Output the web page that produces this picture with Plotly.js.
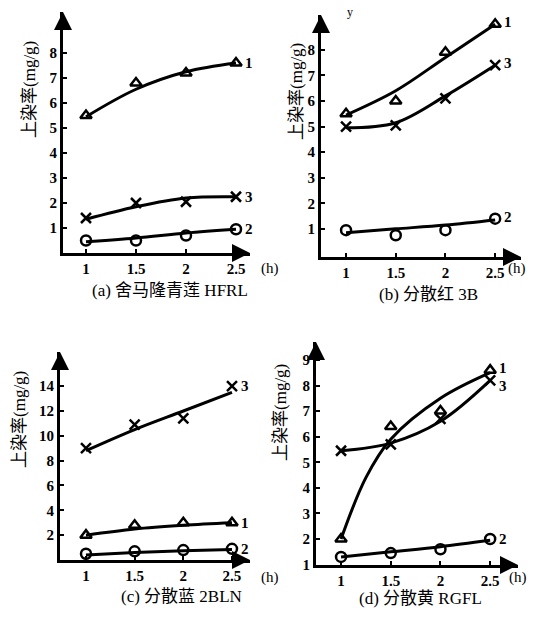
<!DOCTYPE html>
<html><head><meta charset="utf-8">
<script src="https://cdn.plot.ly/plotly-3.0.1.min.js"></script>
<style>html,body{margin:0;padding:0;background:#fff}#c{width:536px;height:618px}</style>
</head><body><div id="c"></div>
<script>
// time (h)
const hours = [1, 1.5, 2, 2.5];
// (a) 舍马隆青莲 HFRL
const aPts1 = [5.5, 6.8, 7.2, 7.6];
const aPts2 = [0.5, 0.5, 0.7, 0.95];
const aPts3 = [1.4, 2.0, 2.05, 2.25];
const aFit1 = [5.45, 6.55, 7.25, 7.6];
const aFit2 = [0.45, 0.6, 0.8, 0.95];
const aFit3 = [1.35, 1.85, 2.2, 2.25];
// (b) 分散红 3B
const bPts1 = [5.5, 6.0, 7.9, 9.0];
const bPts2 = [0.95, 0.75, 0.95, 1.4];
const bPts3 = [5.0, 5.05, 6.1, 7.4];
const bFit1 = [5.45, 6.4, 7.7, 9.0];
const bFit2 = [0.85, 1.0, 1.15, 1.35];
const bFit3 = [4.95, 5.15, 6.2, 7.4];
// (c) 分散蓝 2BLN
const cPts1 = [2.0, 2.8, 3.0, 3.0];
const cPts2 = [0.5, 0.7, 0.8, 0.9];
const cPts3 = [9.0, 10.9, 11.4, 14.0];
const cFit1 = [2.0, 2.5, 2.8, 3.0];
const cFit2 = [0.4, 0.6, 0.75, 0.85];
const cFit3 = [8.8, 10.5, 12.0, 13.5];
// (d) 分散黄 RGFL
const dPts1 = [2.0, 6.4, 7.0, 8.6];
const dPts2 = [1.3, 1.45, 1.6, 2.0];
const dPts3 = [5.45, 5.7, 6.7, 8.2];
const dFitX1 = [1, 1.25, 1.5, 2, 2.5];
const dFit1 = [2.0, 4.4, 5.9, 7.5, 8.5];
const dFit2 = [1.3, 1.5, 1.7, 1.95];
const dFit3 = [5.45, 5.75, 6.6, 8.2];

const xTicks = [1, 1.5, 2, 2.5];
const xTickText = ['1', '1.5', '2', '2.5'];
const aYTicks = [1, 2, 3, 4, 5, 6, 7, 8];
const bYTicks = [1, 2, 3, 4, 5, 6, 7, 8];
const cYTicks = [2, 4, 6, 8, 10, 12, 14];
const dYTicks = [1, 2, 3, 4, 5, 6, 7, 8, 9];
const seriesNames = ['1', '2', '3'];
const captions = ['(a) 舍马隆青莲 HFRL', '(b) 分散红 3B', '(c) 分散蓝 2BLN', '(d) 分散黄 RGFL'];
const yTitle = '上染率(mg/g)';
const xUnit = '(h)';

const FONT = '"Liberation Serif", "Noto Sans CJK SC", serif';
const symbols = ['triangle-up-open', 'circle-open', 'x-thin-open'];

const panels = [
  {ax: '', pts: [aPts1, aPts2, aPts3], fitX: [hours, hours, hours], fit: [aFit1, aFit2, aFit3], lblShift: [0, 0, 0]},
  {ax: '2', pts: [bPts1, bPts2, bPts3], fitX: [hours, hours, hours], fit: [bFit1, bFit2, bFit3], lblShift: [2, 2, 2]},
  {ax: '3', pts: [cPts1, cPts2, cPts3], fitX: [hours, hours, hours], fit: [cFit1, cFit2, cFit3], lblShift: [0, 0, 0]},
  {ax: '4', pts: [dPts1, dPts2, dPts3], fitX: [dFitX1, hours, hours], fit: [dFit1, dFit2, dFit3], lblShift: [2, 0, -6]},
];

const data = [];
const annotations = [];
panels.forEach((p) => {
  const xa = 'x' + p.ax, ya = 'y' + p.ax;
  for (let s = 0; s < 3; s++) {
    data.push({x: p.fitX[s], y: p.fit[s], xaxis: xa, yaxis: ya, mode: 'lines',
      line: {color: '#000', width: 3, shape: 'spline', smoothing: 1}, hoverinfo: 'skip'});
    data.push({x: hours, y: p.pts[s], xaxis: xa, yaxis: ya, mode: 'markers',
      marker: {symbol: symbols[s], size: 10, color: '#000', line: {width: 2.5, color: '#000'}}});
    const last = p.pts[s].length - 1;
    annotations.push({xref: xa, yref: ya, x: hours[last], y: p.pts[s][last], xanchor: 'left', yanchor: 'middle',
      xshift: 7, yshift: p.lblShift[s], text: '<b>' + seriesNames[s] + '</b>', showarrow: false,
      font: {family: FONT, size: 15, color: '#000'}});
  }
  // axis arrow heads
  annotations.push({xref: xa + ' domain', yref: ya + ' domain', x: 0, y: 1, ax: 0, ay: 14,
    showarrow: true, arrowhead: 2, arrowsize: 1.2, arrowwidth: 3, arrowcolor: '#000', text: ''});
  annotations.push({xref: xa + ' domain', yref: ya + ' domain', x: 1, y: 0, ax: -14, ay: 0,
    showarrow: true, arrowhead: 2, arrowsize: 1.2, arrowwidth: 3, arrowcolor: '#000', text: ''});
});

const capPos = [[170, 290], [428, 295], [181, 596], [420, 598]];
const ytPos = [[30, 90], [296, 92], [19, 420], [280, 413]];
const hPos = [[270, 268], [517, 268], [270, 577], [518, 577]];
for (let i = 0; i < 4; i++) {
  annotations.push({xref: 'paper', yref: 'paper', x: capPos[i][0] / 536, y: 1 - capPos[i][1] / 618,
    xanchor: 'center', yanchor: 'middle',
    text: captions[i], showarrow: false, font: {family: FONT, size: 17, color: '#000'}});
  annotations.push({xref: 'paper', yref: 'paper', x: ytPos[i][0] / 536, y: 1 - ytPos[i][1] / 618,
    xanchor: 'center', yanchor: 'middle',
    text: yTitle, textangle: -90, showarrow: false, font: {family: FONT, size: 17, color: '#000'}});
  annotations.push({xref: 'paper', yref: 'paper', x: hPos[i][0] / 536, y: 1 - hPos[i][1] / 618,
    xanchor: 'center', yanchor: 'middle',
    text: xUnit, showarrow: false, font: {family: FONT, size: 15, color: '#000'}});
}
annotations.push({xref: 'paper', yref: 'paper', x: 350 / 536, y: 1 - 12 / 618, xanchor: 'center', yanchor: 'middle',
  text: 'y', showarrow: false, font: {family: FONT, size: 12, color: '#000'}});

const bold = (arr) => arr.map(v => '<b>' + v + '</b>');
function xAxis(domain, range, anchor) {
  return {domain: domain, range: range, anchor: anchor, showline: true, linewidth: 3, linecolor: '#000',
    showgrid: false, zeroline: false, tickvals: xTicks, ticktext: bold(xTickText), ticks: 'inside', ticklen: 4,
    tickwidth: 2, tickcolor: '#000', tickfont: {family: FONT, size: 15, color: '#000'}, fixedrange: true};
}
function yAxis(domain, range, anchor, tv) {
  return {domain: domain, range: range, anchor: anchor, showline: true, linewidth: 3, linecolor: '#000',
    showgrid: false, zeroline: false, tickvals: tv, ticktext: bold(tv.map(String)), ticks: 'inside', ticklen: 4,
    tickwidth: 2, tickcolor: '#000', tickfont: {family: FONT, size: 15, color: '#000'}, fixedrange: true};
}

const layout = {
  width: 536, height: 618, margin: {l: 0, r: 0, t: 0, b: 0},
  paper_bgcolor: '#fff', plot_bgcolor: 'rgba(0,0,0,0)', showlegend: false,
  xaxis: xAxis([63 / 536, 250 / 536], [0.77, 2.64], 'y'),
  yaxis: yAxis([1 - 253 / 618, 1 - 12 / 618], [0, 9.64], 'x', aYTicks),
  xaxis2: xAxis([321 / 536, 521 / 536], [0.748, 2.76], 'y2'),
  yaxis2: yAxis([1 - 257 / 618, 1 - 15 / 618], [-0.1, 9.36], 'x2', bYTicks),
  xaxis3: xAxis([60 / 536, 250 / 536], [0.733, 2.685], 'y3'),
  yaxis3: yAxis([1 - 560 / 618, 1 - 352 / 618], [0, 16.75], 'x3', cYTicks),
  xaxis4: xAxis([316 / 536, 518 / 536], [0.748, 2.78], 'y4'),
  yaxis4: yAxis([1 - 565 / 618, 1 - 342 / 618], [0.985, 9.7], 'x4', dYTicks),
  annotations: annotations
};
Plotly.newPlot('c', data, layout, {staticPlot: true});
</script></body></html>
